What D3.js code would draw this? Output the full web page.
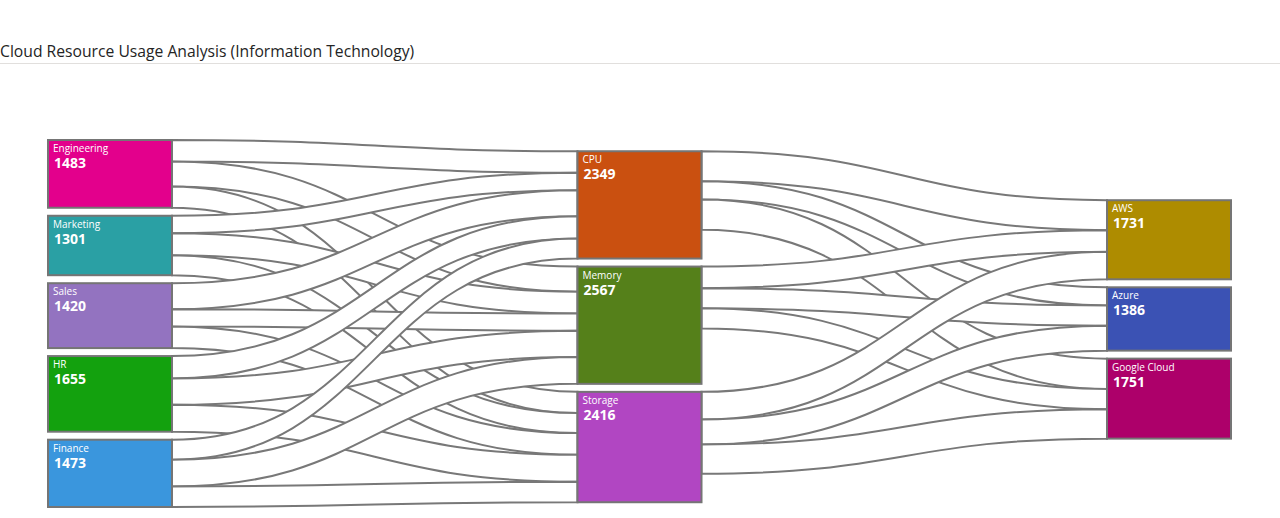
<!DOCTYPE html>
<html><head><meta charset="utf-8">
<script src="https://cdn.jsdelivr.net/npm/d3@7"></script>
<style>
body{margin:0;background:#fff;}
svg{display:block;}
</style></head><body>
<svg id="chart" width="1280" height="518"></svg>
<script>
const titleText = "Cloud Resource Usage Analysis (Information Technology)";
const departments = ["Engineering", "Marketing", "Sales", "HR", "Finance"];
const resources = ["CPU", "Memory", "Storage"];
const providers = ["AWS", "Azure", "Google Cloud"];
// rows: departments, columns: CPU, Memory, Storage
const deptToResource = [
  [470, 549, 464],
  [382, 480, 439],
  [569, 377, 474],
  [490, 575, 590],
  [438, 586, 449]
];
// rows: CPU, Memory, Storage; columns: AWS, Azure, Google Cloud
const resourceToProvider = [
  [656, 398, 666],
  [472, 441, 441],
  [603, 547, 644]
];
const departmentColors = ["#E3008C", "#2AA0A4", "#9373C0", "#13A10E", "#3A96DD"];
const resourceColors = ["#CA5010", "#55801A", "#B146C2"];
const providerColors = ["#AE8C00", "#3B52B4", "#AD006A"];

const W = 1280, H = 518;
const margin = {top: 140, right: 49, bottom: 11, left: 48};
const nodeWidth = 124, nodePadding = 8;

// ---- graph ----
const nodes = [];
departments.forEach((n, i) => nodes.push({name: n, color: departmentColors[i]}));
resources.forEach((n, i) => nodes.push({name: n, color: resourceColors[i]}));
providers.forEach((n, i) => nodes.push({name: n, color: providerColors[i]}));
const links = [];
deptToResource.forEach((row, i) => row.forEach((v, j) =>
  links.push({source: i, target: departments.length + j, value: v})));
resourceToProvider.forEach((row, i) => row.forEach((v, j) =>
  links.push({source: departments.length + i, target: departments.length + resources.length + j, value: v})));

// ---- sankey layout (d3-sankey algorithm) ----
function sankeyLayout(nodes, links, opt) {
  const {x0, y0, x1, y1, nodeWidth: dx, nodePadding: dy, iterations} = opt;
  let py;
  nodes.forEach((n, i) => { n.index = i; n.sourceLinks = []; n.targetLinks = []; });
  links.forEach((l, i) => {
    l.index = i;
    l.source = nodes[l.source]; l.target = nodes[l.target];
    l.source.sourceLinks.push(l); l.target.targetLinks.push(l);
  });
  nodes.forEach(n => n.value = Math.max(d3.sum(n.sourceLinks, l => l.value), d3.sum(n.targetLinks, l => l.value)));
  let current = new Set(nodes), next = new Set(), x = 0;
  while (current.size) {
    for (const n of current) { n.depth = x; for (const {target} of n.sourceLinks) next.add(target); }
    ++x; current = next; next = new Set();
  }
  const nLayers = d3.max(nodes, d => d.depth) + 1;
  const kx = (x1 - x0 - dx) / (nLayers - 1);
  const columns = new Array(nLayers).fill(0).map(() => []);
  for (const n of nodes) {
    const layer = n.sourceLinks.length ? n.depth : nLayers - 1;
    n.layer = layer;
    n.x0 = x0 + layer * kx; n.x1 = n.x0 + dx;
    columns[layer].push(n);
  }
  const ascBreadth = (a, b) => a.y0 - b.y0;
  const ascSource = (a, b) => ascBreadth(a.source, b.source) || a.index - b.index;
  const ascTarget = (a, b) => ascBreadth(a.target, b.target) || a.index - b.index;
  function reorderLinks(ns) {
    for (const {sourceLinks, targetLinks} of ns) { sourceLinks.sort(ascTarget); targetLinks.sort(ascSource); }
  }
  function reorderNodeLinks({sourceLinks, targetLinks}) {
    for (const {source: {sourceLinks: sl}} of targetLinks) sl.sort(ascTarget);
    for (const {target: {targetLinks: tl}} of sourceLinks) tl.sort(ascSource);
  }
  py = Math.min(dy, (y1 - y0) / (d3.max(columns, c => c.length) - 1));
  const ky = d3.min(columns, c => (y1 - y0 - (c.length - 1) * py) / d3.sum(c, d => d.value));
  for (const col of columns) {
    let y = y0;
    for (const n of col) {
      n.y0 = y; n.y1 = y + n.value * ky; y = n.y1 + py;
      for (const l of n.sourceLinks) l.width = l.value * ky;
    }
    y = (y1 - y + py) / (col.length + 1);
    col.forEach((n, i) => { n.y0 += y * (i + 1); n.y1 += y * (i + 1); });
    reorderLinks(col);
  }
  function targetTop(source, target) {
    let y = source.y0 - (source.sourceLinks.length - 1) * py / 2;
    for (const {target: node, width} of source.sourceLinks) { if (node === target) break; y += width + py; }
    for (const {source: node, width} of target.targetLinks) { if (node === source) break; y -= width; }
    return y;
  }
  function sourceTop(source, target) {
    let y = target.y0 - (target.targetLinks.length - 1) * py / 2;
    for (const {source: node, width} of target.targetLinks) { if (node === source) break; y += width + py; }
    for (const {target: node, width} of source.sourceLinks) { if (node === target) break; y -= width; }
    return y;
  }
  function resolveTB(ns, y, i, a) {
    for (; i < ns.length; ++i) { const n = ns[i]; const d = (y - n.y0) * a; if (d > 1e-6) { n.y0 += d; n.y1 += d; } y = n.y1 + py; }
  }
  function resolveBT(ns, y, i, a) {
    for (; i >= 0; --i) { const n = ns[i]; const d = (n.y1 - y) * a; if (d > 1e-6) { n.y0 -= d; n.y1 -= d; } y = n.y0 - py; }
  }
  function resolveCollisions(ns, a) {
    const i = ns.length >> 1, s = ns[i];
    resolveBT(ns, s.y0 - py, i - 1, a);
    resolveTB(ns, s.y1 + py, i + 1, a);
    resolveBT(ns, y1, ns.length - 1, a);
    resolveTB(ns, y0, 0, a);
  }
  function relaxLR(alpha, beta) {
    for (let i = 1; i < columns.length; ++i) {
      const col = columns[i];
      for (const t of col) {
        let y = 0, w = 0;
        for (const {source, value} of t.targetLinks) {
          const v = value * (t.layer - source.layer);
          y += targetTop(source, t) * v; w += v;
        }
        if (!(w > 0)) continue;
        const d = (y / w - t.y0) * alpha;
        t.y0 += d; t.y1 += d; reorderNodeLinks(t);
      }
      resolveCollisions(col, beta);
    }
  }
  function relaxRL(alpha, beta) {
    for (let i = columns.length - 2; i >= 0; --i) {
      const col = columns[i];
      for (const s of col) {
        let y = 0, w = 0;
        for (const {target, value} of s.sourceLinks) {
          const v = value * (target.layer - s.layer);
          y += sourceTop(s, target) * v; w += v;
        }
        if (!(w > 0)) continue;
        const d = (y / w - s.y0) * alpha;
        s.y0 += d; s.y1 += d; reorderNodeLinks(s);
      }
      resolveCollisions(col, beta);
    }
  }
  for (let i = 0; i < iterations; ++i) {
    const alpha = Math.pow(0.99, i);
    const beta = Math.max(1 - alpha, (i + 1) / iterations);
    relaxRL(alpha, beta);
    relaxLR(alpha, beta);
  }
  for (const n of nodes) {
    let a = n.y0, b = n.y0;
    for (const l of n.sourceLinks) { l.y0 = a + l.width / 2; a += l.width; }
    for (const l of n.targetLinks) { l.y1 = b + l.width / 2; b += l.width; }
  }
  return {nodes, links};
}

sankeyLayout(nodes, links, {
  x0: margin.left, y0: margin.top, x1: W - margin.right, y1: H - margin.bottom,
  nodeWidth, nodePadding, iterations: 6
});

const svg = d3.select("#chart");

// title
svg.append("text")
  .attr("x", 0).attr("y", 57)
  .attr("font-family", "'Open Sans', 'Noto Sans', sans-serif")
  .attr("font-size", 15.7).attr("font-weight", 400)
  .attr("fill", "#242424")
  .text(titleText);
svg.append("line")
  .attr("x1", 0).attr("x2", W).attr("y1", 63.5).attr("y2", 63.5)
  .attr("stroke", "#e1dfdd").attr("stroke-width", 1);

function linkArea(l) {
  const xs = l.source.x1, xt = l.target.x0, xm = (xs + xt) / 2, w = l.width / 2;
  const p = d3.path();
  p.moveTo(xs, l.y0 - w);
  p.bezierCurveTo(xm, l.y0 - w, xm, l.y1 - w, xt, l.y1 - w);
  p.lineTo(xt, l.y1 + w);
  p.bezierCurveTo(xm, l.y1 + w, xm, l.y0 + w, xs, l.y0 + w);
  p.closePath();
  return p.toString();
}

svg.append("g").selectAll("path")
  .data(links)
  .join("path")
  .attr("d", linkArea)
  .attr("fill", "#ffffff")
  .attr("stroke", "#787878")
  .attr("stroke-width", 2);

const ng = svg.append("g").selectAll("g")
  .data(nodes)
  .join("g");
ng.append("rect")
  .attr("x", d => d.x0).attr("y", d => d.y0)
  .attr("width", d => d.x1 - d.x0).attr("height", d => d.y1 - d.y0)
  .attr("fill", d => d.color)
  .attr("stroke", "#757575").attr("stroke-width", 2);
ng.append("text")
  .attr("x", d => d.x0 + 5).attr("y", d => d.y0 + 12)
  .attr("font-family", "'Open Sans', 'Noto Sans', sans-serif")
  .attr("font-size", 10).attr("fill", "#ffffff")
  .text(d => d.name);
ng.append("text")
  .attr("x", d => d.x0 + 6).attr("y", d => d.y0 + 28)
  .attr("font-family", "'Open Sans', 'Noto Sans', sans-serif")
  .attr("font-size", 14).attr("font-weight", 700).attr("fill", "#ffffff")
  .text(d => d.value);
</script>
</body></html>
